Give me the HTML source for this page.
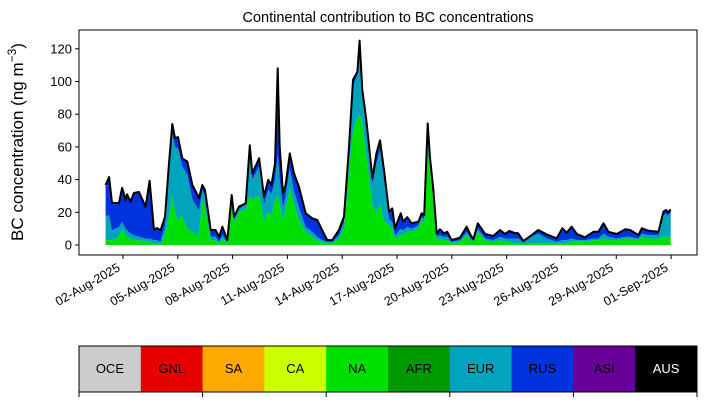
<!DOCTYPE html>
<html><head><meta charset="utf-8"><style>
body{margin:0;background:#fff;}
svg text{font-family:"Liberation Sans",sans-serif;}
</style></head><body>
<svg id="chart" width="707" height="402" viewBox="0 0 707 402" xmlns="http://www.w3.org/2000/svg">
<text x="388" y="22" font-size="14.5" text-anchor="middle">Continental contribution to BC concentrations</text>
<text transform="translate(23,142) rotate(-90)" font-size="17" text-anchor="middle">BC concentration (ng m<tspan baseline-shift="super" font-size="12">−3</tspan>)</text>
<g id="areas"></g>
<g id="yaxis"></g>
<g id="xaxis"></g>
<rect x="79" y="30" width="618" height="225" fill="none" stroke="#000" stroke-width="1"/>
<g id="legend"></g>
</svg>
<script>
const days=[0.05,0.24,0.4,0.78,0.95,1.15,1.22,1.42,1.6,1.88,2.24,2.46,2.7,2.86,3.06,3.3,3.52,3.7,3.85,4.01,4.25,4.52,4.8,5.16,5.34,5.49,5.8,6.07,6.26,6.44,6.71,6.95,7.08,7.35,7.72,7.94,8.08,8.45,8.72,8.95,9.13,9.32,9.47,9.58,9.76,9.9,10.13,10.36,10.63,11.0,11.36,11.63,11.9,12.18,12.46,12.82,13.1,13.37,13.59,13.83,13.95,14.1,14.32,14.65,14.87,15.07,15.29,15.56,15.74,15.89,16.2,16.34,16.56,16.8,17.17,17.35,17.49,17.68,17.8,17.99,18.17,18.35,18.57,18.75,18.99,19.45,19.81,20.03,20.18,20.42,20.82,21.27,21.64,21.91,22.15,22.4,22.64,22.91,23.37,23.73,24.19,24.74,25.05,25.29,25.56,25.84,26.29,26.75,27.02,27.3,27.57,28.03,28.49,28.76,29.22,29.4,29.77,30.31,30.58,30.73,30.85,30.98];
const totalBC=[36.7,41.6,25.7,25.7,35,27.5,31,26.5,31.8,32.4,23.4,39.3,9.2,10.4,9,17.3,50,74,65.4,66,53,51,36.7,28.7,36.7,33.6,9.2,9.2,5,11.2,3,30.6,17.3,23.4,25.5,61,43.8,53,29.5,39.8,36.7,50,108,60,31.6,36.7,56,43.8,35.7,19.4,16.3,15.3,9.2,3,3,9.2,17.3,60,101,106,125,95,76.5,40.8,56,64,45.9,20.4,22.4,10.2,19.4,14.3,17,13.3,14.3,19.4,18.3,74.4,54,33.6,7.1,9.6,7.1,8.1,3,4.5,11.2,6.1,3.5,13.3,6.7,5.5,9.2,6.7,8.6,7.5,7.1,2.4,6.1,9.2,6.5,4.1,10.2,7.5,11.2,6.7,4.7,8.1,8.1,13.3,8.1,6.7,9.6,9.2,6.1,10.2,8.7,8.1,20.4,21.4,20,21.8];
const naBC=[3,3,3,5,10,6,5,4,3,3,2,2,1,1,1,6,18,30,20,15,18,10,8,6,28,22,3,3,1,4,1,25,14,20,22,30,28,30,15,20,18,28,30,25,15,22,35,25,15,8,5,3,2,1,1,4,10,45,70,78,80,75,55,25,20,25,15,12,10,4,6,6,8,8,10,15,14,60,45,30,3,4,3,3,1,2,6,3,2,8,3,2,3,2,2,1,1,0.5,1,1,1,1,1,1,2,2,2,3,3,4,3,3,4,4,3,5,4,4,5,5,5,5];
const eurBC=[15,15,6,6,4,4,4,3,3,2,2,2,2,2,1,6,25,38,40,44,30,33,20,15,5,8,2,2,1,2,0.5,3,1,2,3,25,12,18,10,14,13,12,25,15,8,8,12,8,8,3,3,2,1,1,1,2,4,12,27,26,40,18,18,12,30,33,25,4,4,2,4,3,3,2,2,2,2,8,5,2,2,2,2,2,1,1,2,1,1,2,1,1,2,2,2,3,3,1,4,6,3,1,2,2,2,1,1,1,1,3,2,1,1,1,1,2,2,2,13,14,13,15];
const tickVals=[0,20,40,60,80,100,120];
const tickDates=["02-Aug-2025","05-Aug-2025","08-Aug-2025","11-Aug-2025","14-Aug-2025","17-Aug-2025","20-Aug-2025","23-Aug-2025","26-Aug-2025","29-Aug-2025","01-Sep-2025"];
const tickDays=[1,4,7,10,13,16,19,22,25,28,31];
const regions=["OCE","GNL","SA","CA","NA","AFR","EUR","RUS","ASI","AUS"];
const regionColors=["#cccccc","#e60000","#ffaa00","#ccff00","#00e000","#009900","#00a5bd","#0033dd","#660099","#000000"];

const NS="http://www.w3.org/2000/svg";
const xs=d=>104.7+d*18.27;
const ys=v=>245-v*1.635;
function mk(t,a,p){const e=document.createElementNS(NS,t);for(const k in a)e.setAttribute(k,a[k]);p.appendChild(e);return e;}
const areas=document.getElementById('areas');
const n=days.length;
const rus=totalBC.map((t,i)=>Math.max(0,t-naBC[i]-eurBC[i]));
const layers=[{v:naBC,c:"#00e000",name:"area-na"},{v:eurBC,c:"#00a5bd",name:"area-eur"},{v:rus,c:"#0033dd",name:"area-rus"}];
let base=new Array(n).fill(0);
layers.forEach(L=>{
  const top=base.map((b,i)=>b+L.v[i]);
  let d="M"+days.map((dd,i)=>xs(dd).toFixed(1)+","+ys(top[i]).toFixed(1)).join("L");
  for(let i=n-1;i>=0;i--)d+="L"+xs(days[i]).toFixed(1)+","+ys(base[i]).toFixed(1);
  const p=mk('path',{d:d+"Z",fill:L.c,stroke:"none"},areas);
  
  
  base=top;
});
const tl=mk('path',{d:"M"+days.map((dd,i)=>xs(dd).toFixed(1)+","+ys(totalBC[i]).toFixed(1)).join("L"),fill:"none",stroke:"#000","stroke-width":2,"stroke-linejoin":"round"},areas);



const ya=document.getElementById('yaxis');
tickVals.forEach(v=>{
  const y=ys(v);
  const l=mk('line',{x1:75,x2:79,y1:y,y2:y,stroke:"#000"},ya);
  
  
  const t=mk('text',{x:72,y:y+4.5,"font-size":13,"text-anchor":"end"},ya);
  t.textContent=v;
  
  
});
const xa=document.getElementById('xaxis');
tickDays.forEach((d,i)=>{
  const x=xs(d);
  const l=mk('line',{x1:x,x2:x,y1:255,y2:259,stroke:"#000"},xa);
  
  
  const t=mk('text',{transform:`translate(${x-2},${270}) rotate(-30)`,"font-size":12.5,"text-anchor":"end"},xa);
  t.textContent=tickDates[i];
  
  
});
const lg=document.getElementById('legend');
const cw=618/regions.length;
regions.forEach((r,i)=>{
  const c=mk('rect',{x:79+i*cw,y:346,width:cw+0.5,height:46,fill:regionColors[i]},lg);
  
  
  const t=mk('text',{x:79+(i+0.5)*cw,y:373,"font-size":13,"text-anchor":"middle",fill:r==="AUS"?"#fff":"#000"},lg);
  t.textContent=r;
  
  
});
const fr=mk('rect',{x:79,y:346,width:618,height:46,fill:"none",stroke:"#000"},lg);


for(let k=0;k<=5;k++){
  const x=79+k*2*cw;
  const l=mk('line',{x1:x,x2:x,y1:392,y2:397,stroke:"#000"},lg);
  
  
}
</script>
</body></html>
